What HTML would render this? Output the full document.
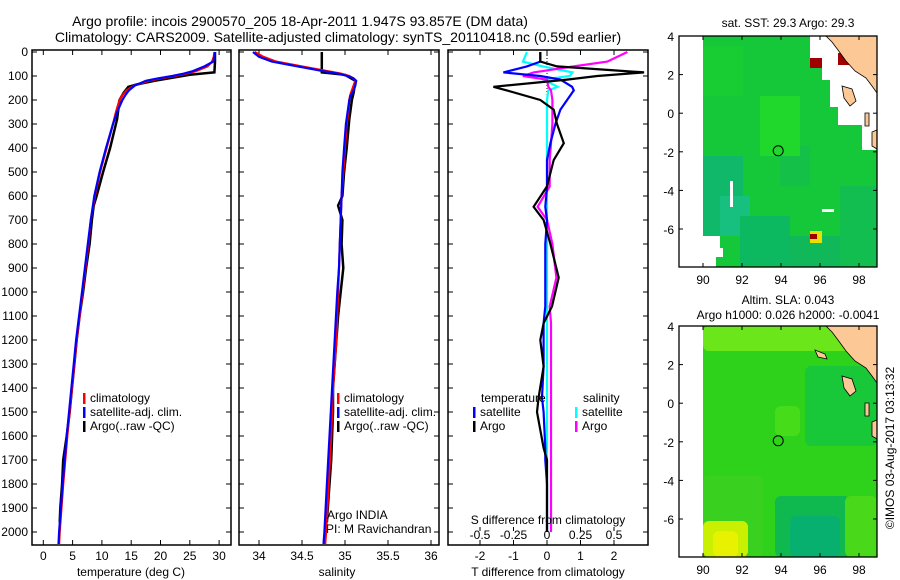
<!DOCTYPE html>
<html><head><meta charset="utf-8"><style>
body{margin:0;background:#fff;}
svg{display:block;font-family:"Liberation Sans",sans-serif;}
</style></head><body>
<svg id="fig" width="900" height="580" viewBox="0 0 900 580">
<text x="300" y="26" font-size="14" text-anchor="middle">Argo profile: incois 2900570_205 18-Apr-2011 1.947S 93.857E (DM data)</text>
<text x="338" y="42" font-size="14" text-anchor="middle">Climatology: CARS2009. Satellite-adjusted climatology: synTS_20110418.nc (0.59d earlier)</text>
<g id="g1"></g>
<g id="g2"></g>
<g id="g3"></g>
<g id="m1"></g>
<g id="m2"></g>
<text transform="translate(894,448) rotate(-90)" font-size="12" text-anchor="middle">©IMOS 03-Aug-2017 03:13:32</text>
</svg>
<script>
// ---- data ----
const depthClim = [0,20,40,60,80,90,100,110,120,140,160,180,200,250,300,400,500,600,700,800,900,1000,1200,1400,1600,1800,2000,2050];
const tempClim  = [29.2,29.1,28.8,28,26,24.5,22.5,20,18,15.5,14.2,13.5,13,12.4,11.9,10.8,9.7,8.8,8.1,7.7,7.2,6.7,5.7,4.9,4.1,3.4,2.8,2.7];
const tempSat   = [29.3,29.2,29,27.5,25.5,24,22,19.5,17.5,15.6,14.6,14,13.5,12.6,11.9,10.7,9.6,8.7,8.1,7.6,7.1,6.6,5.6,4.8,4.0,3.3,2.7,2.6];
const salClim   = [33.95,34.05,34.2,34.5,34.8,34.95,35.05,35.1,35.12,35.1,35.08,35.06,35.05,35.04,35.02,35.0,34.98,34.96,34.95,34.94,34.93,34.92,34.9,34.86,34.84,34.81,34.78,34.77];
const salSat    = [33.93,34.0,34.15,34.45,34.75,34.92,35.03,35.1,35.13,35.12,35.1,35.07,35.05,35.03,35.01,34.99,34.97,34.96,34.95,34.94,34.93,34.91,34.88,34.85,34.82,34.79,34.76,34.75];
const depthArgo = [0,40,85,95,120,135,145,170,200,280,400,500,600,640,700,800,900,1000,1100,1200,1300,1400,1500,1600,1700,1800,1900,1960];
const tempArgo  = [29.3,29.3,29.2,25,19,16,14.5,13.7,13,12.6,11.4,10.2,9.1,8.6,8.3,7.9,7.3,6.8,6.2,5.7,5.3,4.9,4.5,4.0,3.4,3.2,2.9,2.8];
const salArgo   = [34.73,34.73,34.73,35.0,35.12,35.12,35.11,35.1,35.08,35.05,35.02,34.99,34.97,34.92,34.97,34.96,34.98,34.95,34.92,34.9,34.88,34.86,34.86,34.85,34.84,34.82,34.8,34.79];
const depthDiff = [0,40,60,85,100,115,145,160,200,240,300,380,450,560,645,700,800,940,1060,1130,1200,1310,1440,1500,1650,1700,1800,2000];
const dTempArgo = [-0.2,-0.2,0.3,2.9,1.5,0.6,-1.6,-1.2,-0.2,0.2,0.3,0.5,0.2,0,-0.4,-0.1,0.1,0.35,0.15,-0.1,-0.2,-0.1,-0.25,-0.3,-0.1,0,0,0];
const dTempSat  = [-0.2,-0.2,-0.6,-1.3,-0.2,0.4,0.75,0.8,0.6,0.4,0.25,0.1,0,0,-0.05,0,-0.05,-0.05,-0.05,-0.1,-0.1,-0.1,-0.15,-0.1,-0.05,-0.05,0,0];
const dSalArgo  = [0.6,0.45,0.2,-0.1,-0.18,0,0.01,0.03,0.04,0.04,0.04,0.03,0.02,0.02,-0.07,0,0.04,0.07,0.02,0.03,0.03,0.03,0.03,0.03,0.03,0.03,0.03,0.03];
const dSalCyan  = [-0.15,-0.18,-0.03,0.19,0.17,-0.03,0.08,0.01,0,0,0,0,0,0,0,0,0,0,0,0,0,0,0,0,0,0,0,0];
const depthTicks = [0,100,200,300,400,500,600,700,800,900,1000,1100,1200,1300,1400,1500,1600,1700,1800,1900,2000];
const tempTicks = [0,5,10,15,20,25,30];
const salTicks = [34,34.5,35,35.5,36];
const salTickLabels = ["34","34.5","35","35.5","36"];
const dTTicks = [-2,-1,0,1,2];
const dSTicks = [-0.5,-0.25,0,0.25,0.5];
const dSTickLabels = ["-0.5","-0.25","0","0.25","0.5"];
const lonTicks = [90,92,94,96,98];
const latTicks = [4,2,0,-2,-4,-6];

const NS="http://www.w3.org/2000/svg";
function mk(parent,tag,attrs,name){const e=document.createElementNS(NS,tag);for(const k in attrs)e.setAttribute(k,attrs[k]);


parent.appendChild(e);return e;}
function txt(parent,x,y,s,anchor,name,size){const t=mk(parent,'text',{x:x,y:y,'font-size':size||12,'text-anchor':anchor||'start'},name);t.textContent=s;return t;}

const yD = d => 52 + d*0.24;
const Y0=50, Y1=545;

function frame(g,x0,x1,name){mk(g,'rect',{x:x0,y:Y0,width:x1-x0,height:Y1-Y0,fill:'none',stroke:'#000','stroke-width':1.5},name);}
function line(g,xs,ds,xf,color,w,name){
  const pts=xs.map((v,i)=>xf(v).toFixed(1)+','+yD(ds[i]).toFixed(1)).join(' ');
  mk(g,'polyline',{points:pts,fill:'none',stroke:color,'stroke-width':w,'stroke-linejoin':'miter'},name);
}
function legendEntry(g,x,y,color,label,name){
  mk(g,'rect',{x:x,y:y-9,width:2.5,height:11,fill:color},name+'-swatch');
  txt(g,x+7,y,label,'start',name,12);
}

// Panel 1 temperature
const g1=document.getElementById('g1');
const xT = t => 43.3 + t*5.86;
frame(g1,32,231,'temperature-frame');
depthTicks.forEach(d=>{mk(g1,'line',{x1:32,x2:37,y1:yD(d),y2:yD(d),stroke:'#000'},'depth-tick');
 mk(g1,'line',{x1:226,x2:231,y1:yD(d),y2:yD(d),stroke:'#000'},'depth-tick-right');
 txt(g1,28,yD(d)+4,String(d),'end','depth-tick-label',12);});
tempTicks.forEach(t=>{mk(g1,'line',{x1:xT(t),x2:xT(t),y1:Y1,y2:Y1-5,stroke:'#000'},'temp-tick');
 mk(g1,'line',{x1:xT(t),x2:xT(t),y1:Y0,y2:Y0+5,stroke:'#000'},'temp-tick-top');
 txt(g1,xT(t),560,String(t),'middle','temp-tick-label',12);});
txt(g1,131,576,'temperature (deg C)','middle','x-axis-title-temperature',12);
line(g1,tempArgo,depthArgo,xT,'#000',2.5,'argo-temperature-line');
line(g1,tempClim,depthClim,xT,'#f00',2.2,'climatology-temperature-line');
line(g1,tempSat,depthClim,xT,'#00f',2.2,'satellite-temperature-line');
legendEntry(g1,83,402,'#f00','climatology','legend-climatology');
legendEntry(g1,83,416,'#00f','satellite-adj. clim.','legend-satellite');
legendEntry(g1,83,430,'#000','Argo(..raw -QC)','legend-argo');

// Panel 2 salinity
const g2=document.getElementById('g2');
const xS = s => 259 + (s-34)*86;
frame(g2,239,439,'salinity-frame');
depthTicks.forEach(d=>{mk(g2,'line',{x1:239,x2:244,y1:yD(d),y2:yD(d),stroke:'#000'},'depth-tick');
 mk(g2,'line',{x1:434,x2:439,y1:yD(d),y2:yD(d),stroke:'#000'},'depth-tick-right');});
salTicks.forEach((s,i)=>{mk(g2,'line',{x1:xS(s),x2:xS(s),y1:Y1,y2:Y1-5,stroke:'#000'},'sal-tick');
 mk(g2,'line',{x1:xS(s),x2:xS(s),y1:Y0,y2:Y0+5,stroke:'#000'},'sal-tick-top');
 txt(g2,xS(s),560,salTickLabels[i],'middle','sal-tick-label',12);});
txt(g2,337,576,'salinity','middle','x-axis-title-salinity',12);
line(g2,salArgo,depthArgo,xS,'#000',2.5,'argo-salinity-line');
line(g2,salClim,depthClim,xS,'#f00',2.2,'climatology-salinity-line');
line(g2,salSat,depthClim,xS,'#00f',2.2,'satellite-salinity-line');
legendEntry(g2,337,402,'#f00','climatology','legend-climatology');
legendEntry(g2,337,416,'#00f','satellite-adj. clim.','legend-satellite');
legendEntry(g2,337,430,'#000','Argo(..raw -QC)','legend-argo');
txt(g2,327,519,'Argo INDIA','start','argo-india-label',12);
txt(g2,326,533,'PI: M Ravichandran','start','pi-label',12);

// Panel 3 differences
const g3=document.getElementById('g3');
const xDT = v => 547 + v*33.5;
const xDS = v => 547 + v*134;
frame(g3,448,648,'difference-frame');
depthTicks.forEach(d=>{mk(g3,'line',{x1:448,x2:453,y1:yD(d),y2:yD(d),stroke:'#000'},'depth-tick');
 mk(g3,'line',{x1:643,x2:648,y1:yD(d),y2:yD(d),stroke:'#000'},'depth-tick-right');});
dTTicks.forEach(t=>{mk(g3,'line',{x1:xDT(t),x2:xDT(t),y1:Y1,y2:Y1-5,stroke:'#000'},'dt-tick');
 mk(g3,'line',{x1:xDT(t),x2:xDT(t),y1:Y0,y2:Y0+5,stroke:'#000'},'dt-tick-top');
 txt(g3,xDT(t),560,String(t),'middle','dt-tick-label',12);});
dSTicks.forEach((s,i)=>{mk(g3,'line',{x1:xDS(s),x2:xDS(s),y1:527,y2:531,stroke:'#000'},'ds-tick');
 txt(g3,xDS(s),539,dSTickLabels[i],'middle','ds-tick-label',12);});
mk(g3,'line',{x1:547,x2:547,y1:52,y2:520,stroke:'#000','stroke-dasharray':'1,2'},'zero-line');
txt(g3,548,576,'T difference from climatology','middle','x-axis-title-tdiff',12);
line(g3,dSalCyan,depthDiff,xDS,'#0ff',2.2,'satellite-salinity-diff-line');
line(g3,dSalArgo,depthDiff,xDS,'#f0f',2.2,'argo-salinity-diff-line');
line(g3,dTempSat,depthDiff,xDT,'#00f',2.2,'satellite-temperature-diff-line');
line(g3,dTempArgo,depthDiff,xDT,'#000',2.2,'argo-temperature-diff-line');
txt(g3,548,524,'S difference from climatology','middle','s-diff-title',12);
txt(g3,481,402,'temperature','start','legend-temperature-heading',12);
legendEntry(g3,473,416,'#00f','satellite','legend-t-satellite');
legendEntry(g3,473,430,'#000','Argo','legend-t-argo');
txt(g3,583,402,'salinity','start','legend-salinity-heading',12);
legendEntry(g3,575,416,'#0ff','satellite','legend-s-satellite');
legendEntry(g3,575,430,'#f0f','Argo','legend-s-argo');

// Maps
function drawMap(g,top,title1,title2,kind){
  const L=679,R=877,B=top+231;
  const xL = lon => 703 + (lon-90)*19.5;
  const yL = lat => top + (4-lat)*19.3;
  if(title2){txt(g,788,top-22,title1,'middle','map-title',12);txt(g,788,top-7,title2,'middle','map-subtitle',12);}
  else txt(g,788,top-9,title1,'middle','map-title',12);
  mk(g,'rect',{x:703,y:top,width:R-703,height:B-top,fill:kind==='sst'?'#14c83a':'#2ed21a'},'map-sea');
  if(kind==='sst'){
    [[703,top+120,40,80,'#10b86a'],[720,top+160,30,40,'#18c080'],[740,top+180,50,50,'#0cb860'],[790,top+200,60,31,'#10b85a'],[780,top+110,30,40,'#14c048'],[840,top+150,37,80,'#12be50'],[760,top+60,40,60,'#20d82c'],[703,top+10,40,50,'#18cc34']]
    .forEach(p=>mk(g,'rect',{x:p[0],y:p[1],width:p[2],height:p[3],fill:p[4]},'map-patch'));
    mk(g,'polygon',{points:`806,${top} ${R},${top} ${R},${top+114} ${862},${top+114} 862,${top+89} 838,${top+89} 838,${top+71} 830,${top+71} 830,${top+44} 822,${top+44} 822,${top+22} 810,${top+22} 810,${top}`,fill:'#fff'},'map-no-data');
    mk(g,'polygon',{points:`703,${top+200} 720,${top+200} 720,${top+212} 723,${top+212} 723,${top+221} 716,${top+221} 716,${B} 703,${B}`,fill:'#fff'},'map-no-data');
    mk(g,'rect',{x:730,y:top+145,width:3,height:26,fill:'#fff'},'map-no-data');
    mk(g,'rect',{x:822,y:top+173,width:12,height:3,fill:'#fff'},'map-no-data');
    mk(g,'rect',{x:838,y:top+17,width:12,height:12,fill:'#a00000'},'hot-pixel');
    mk(g,'rect',{x:810,y:top+22,width:12,height:10,fill:'#a00000'},'hot-pixel');
    mk(g,'rect',{x:810,y:top+195,width:12,height:12,fill:'#e8e000'},'hot-pixel');
    mk(g,'rect',{x:810,y:top+198,width:7,height:5,fill:'#a00000'},'hot-pixel');
  } else {
    [[703,top,174,25,'#6ae61a'],[703,top+150,60,81,'#3ad020'],[703,top+195,45,36,'#c8f000'],[713,top+205,25,26,'#e8f200'],[775,top+170,75,61,'#10b850'],[790,top+190,50,41,'#08b070'],[845,top+170,32,61,'#4ad81a'],[805,top+40,72,80,'#18c838'],[775,top+80,25,30,'#46dc1a']]
    .forEach(p=>mk(g,'rect',{x:p[0],y:p[1],width:p[2],height:p[3],fill:p[4],rx:6},'map-patch'));
  }
  mk(g,'polygon',{points:`826,${top} ${R},${top} ${R},${top+57} 872,${top+50} 866,${top+42} 855,${top+35} 846,${top+25} 838,${top+14} 832,${top+6}`,fill:'#fbc896',stroke:'#000','stroke-width':0.8},'land-sumatra');
  mk(g,'polygon',{points:`842,${top+50} 852,${top+53} 856,${top+65} 850,${top+70} 844,${top+62}`,fill:'#fbc896',stroke:'#000','stroke-width':0.8},'land-island');
  mk(g,'polygon',{points:`872,${top+96} ${R},${top+94} ${R},${top+113} 872,${top+110}`,fill:'#fbc896',stroke:'#000','stroke-width':0.8},'land-island');
  mk(g,'polygon',{points:`865,${top+77} 869,${top+77} 869,${top+90} 865,${top+90}`,fill:'#fbc896',stroke:'#000','stroke-width':0.8},'land-island');
  if(kind==='sla') mk(g,'polygon',{points:`815,${top+24} 825,${top+28} 827,${top+33} 818,${top+31}`,fill:'#fbc896',stroke:'#000','stroke-width':0.8},'land-island');
  mk(g,'circle',{cx:xL(93.857),cy:yL(-1.947),r:5,fill:'none',stroke:'#000','stroke-width':1},'argo-float-location');
  mk(g,'rect',{x:L,y:top,width:R-L,height:B-top,fill:'none',stroke:'#000','stroke-width':1.3},'map-frame');
  lonTicks.forEach(lon=>{mk(g,'line',{x1:xL(lon),x2:xL(lon),y1:B,y2:B-4,stroke:'#000'},'lon-tick');
    mk(g,'line',{x1:xL(lon),x2:xL(lon),y1:top,y2:top+4,stroke:'#000'},'lon-tick-top');
    txt(g,xL(lon),B+17,String(lon),'middle','lon-tick-label',12);});
  latTicks.forEach(lat=>{mk(g,'line',{x1:L,x2:L+4,y1:yL(lat),y2:yL(lat),stroke:'#000'},'lat-tick');
    mk(g,'line',{x1:R-4,x2:R,y1:yL(lat),y2:yL(lat),stroke:'#000'},'lat-tick-right');
    txt(g,674,yL(lat)+5,String(lat),'end','lat-tick-label',12);});
}
drawMap(document.getElementById('m1'),36,'sat. SST: 29.3 Argo: 29.3',null,'sst');
drawMap(document.getElementById('m2'),326,'Altim. SLA: 0.043','Argo h1000: 0.026 h2000: -0.0041','sla');
</script>
</body></html>
